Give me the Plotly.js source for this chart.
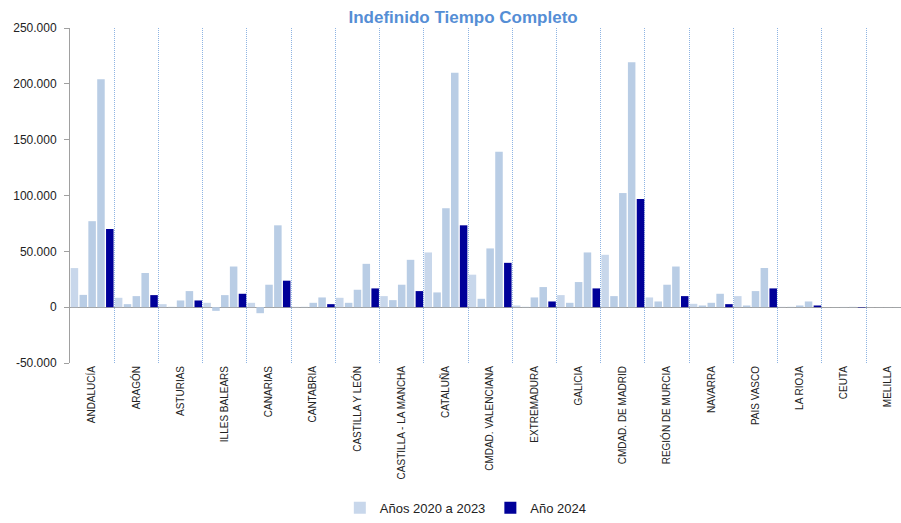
<!DOCTYPE html>
<html>
<head>
<meta charset="utf-8">
<script src="https://cdn.plot.ly/plotly-3.0.1.min.js"></script>
<style>html,body{margin:0;padding:0;background:#fff;}#chart{width:901px;height:523px;}</style>
</head>
<body>
<div id="chart"></div>
<script>
const categories = ['ANDALUCÍA','ARAGÓN','ASTURIAS','ILLES BALEARS','CANARIAS','CANTABRIA','CASTILLA Y LEÓN','CASTILLA - LA MANCHA','CATALUÑA','CMDAD. VALENCIANA','EXTREMADURA','GALICIA','CMDAD. DE MADRID','REGIÓN DE MURCIA','NAVARRA','PAIS VASCO','LA RIOJA','CEUTA','MELILLA'];
const y2020 = [35000, 8400, 2700, 3900, 3900, 300, 8400, 9900, 49000, 29100, 1500, 10800, 46900, 8700, 3000, 9900, 300, 100, 100];
const y2021 = [11000, 2700, 300, -3300, -5400, 300, 3900, 6300, 13200, 7500, 300, 3900, 9900, 5100, 1500, 1500, 300, 100, 100];
const y2022 = [77000, 9900, 6000, 10800, 20100, 3900, 15600, 20100, 88600, 52600, 8700, 22500, 102200, 20100, 3900, 14400, 1500, 200, 100];
const y2023 = [204000, 30600, 14400, 36400, 73300, 8700, 38800, 42400, 210000, 139100, 18000, 49000, 219400, 36400, 12000, 35100, 5100, 300, 100];
const y2024 = [70000, 10800, 6000, 12000, 23700, 2700, 16800, 14400, 73300, 39700, 5100, 16800, 96800, 9900, 2700, 16800, 1500, -400, 100];
const yTickVals = [-50000, 0, 50000, 100000, 150000, 200000, 250000];
const yTickText = ['-50.000', '0', '50.000', '100.000', '150.000', '200.000', '250.000'];

const light = '#b9cde5', lighter = '#c8d7eb', dark = '#000099';
function bar(y, name, color, show) {
  return {type: 'bar', x: categories, y: y, name: name, marker: {color: color, line: {width: 0}},
          legendgroup: 'Años 2020 a 2023', showlegend: show, hoverinfo: 'x+y'};
}
const traces = [
  bar(y2020, 'Años 2020 a 2023', lighter, true),
  bar(y2021, '2021', light, false),
  bar(y2022, '2022', light, false),
  bar(y2023, '2023', light, false),
  bar(y2024, 'Año 2024', dark, true)
];
traces[4].legendgroup = 'Año 2024';

const layout = {
  width: 901, height: 523,
  margin: {l: 70, r: 0, t: 28, b: 160, pad: 0},
  paper_bgcolor: '#fff', plot_bgcolor: '#fff',
  font: {family: 'Liberation Sans, Arial, sans-serif', color: '#222'},
  title: {text: '<b>Indefinido Tiempo Completo</b>', font: {size: 17, color: '#558ed5', family: 'Liberation Sans, Arial, sans-serif'},
          xref: 'container', x: 0.514, xanchor: 'center', yref: 'container', y: 0.968, yanchor: 'middle'},
  barmode: 'group', bargap: 0.0, bargroupgap: 0.15,
  xaxis: {type: 'category', range: [-0.5, 18.29], tickson: 'boundaries', showgrid: true, gridcolor: '#8eb4e3',
          griddash: '1px,1px', gridwidth: 1, showline: false, zeroline: false, ticks: '', tickangle: -90,
          tickfont: {size: 10, color: '#222'}, automargin: false, fixedrange: true},
  yaxis: {range: [-50000, 250000], tickmode: 'array', tickvals: yTickVals, ticktext: yTickText,
          showgrid: false, zeroline: true, zerolinecolor: '#a0a0a0', zerolinewidth: 1,
          showline: true, linecolor: '#a0a0a0', linewidth: 1, ticks: 'outside', ticklen: 5, tickcolor: '#a0a0a0',
          ticklabelstandoff: 5, tickfont: {size: 12, color: '#222'}, automargin: false, fixedrange: true},
  legend: {orientation: 'h', x: 0.517, xanchor: 'center', xref: 'container', yref: 'container', y: 0.029, yanchor: 'middle',
           font: {size: 13, color: '#222'}, traceorder: 'normal', itemwidth: 30},
  showlegend: true
};
Plotly.newPlot('chart', traces, layout, {displayModeBar: false, staticPlot: true});
</script>
</body>
</html>
